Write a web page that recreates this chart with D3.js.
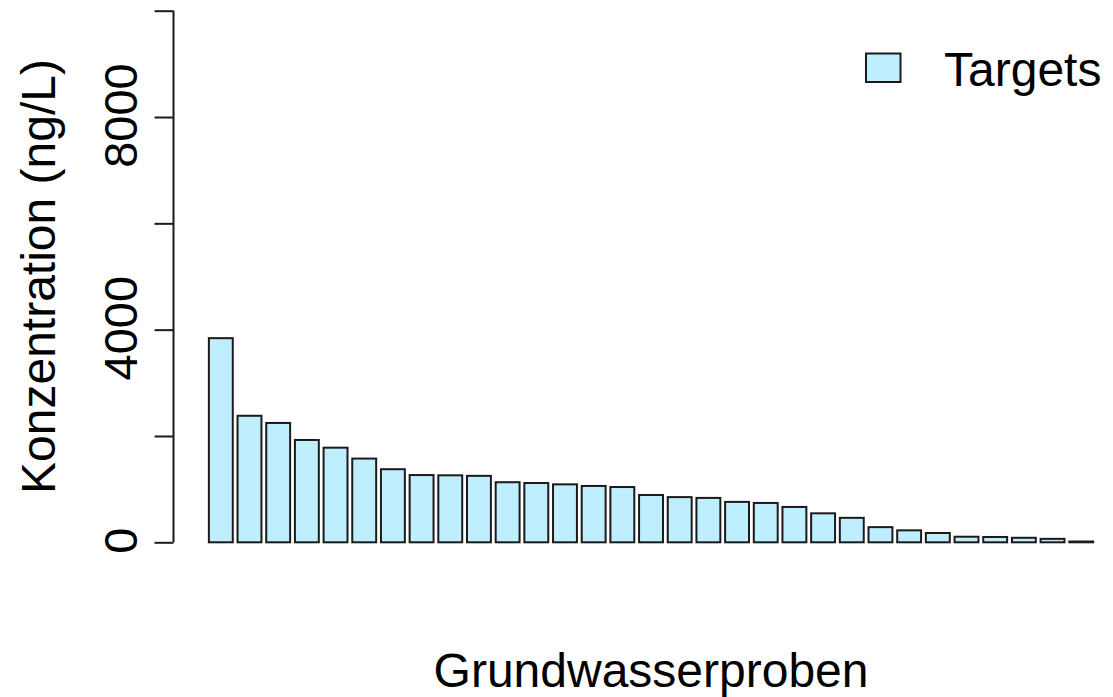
<!DOCTYPE html>
<html>
<head>
<meta charset="utf-8">
<script src="https://cdn.jsdelivr.net/npm/d3@7"></script>
<style>
  html, body { margin: 0; padding: 0; background: #fff; }
  svg { display: block; }
  text { font-family: "Liberation Sans", Arial, Helvetica, sans-serif; fill: #000; }
</style>
</head>
<body>
<svg id="chart" width="1113" height="697"></svg>
<script>
// ---- data ----
const samples = d3.range(1, 32).map(i => "P" + i);
const targets = [3840, 2380, 2245, 1925, 1780, 1575, 1375, 1265, 1260, 1250,
                 1130, 1115, 1090, 1060, 1040, 890, 850, 835, 760, 740,
                 665, 545, 460, 285, 225, 175, 105, 100, 85, 65, 15];
const yTicks = [0, 2000, 4000, 6000, 8000, 10000];
const yTickLabels = ["0", "", "4000", "", "8000", ""];
const seriesName = "Targets";
const xTitle = "Grundwasserproben";
const yTitle = "Konzentration (ng/L)";

// ---- layout (R barplot style: width 1, space 0.2, 4% axis extension) ----
const svg = d3.select("#chart");
const fontSize = 48;
const tickFont = 47;
const barFill = "#BFEFFF";

const n = targets.length;
const uMin = 0.2, uMax = 1.2 * n;           // bar extents in user units
const ext = 0.04 * (uMax - uMin);
const x = d3.scaleLinear()
  .domain([uMin - ext, uMax + ext])
  .range([173.5, 173.5 + (uMax - uMin + 2 * ext) * 23.9]);

const y = d3.scaleLinear().domain([0, 10000]).range([542.3, 10.7]);

// bars
svg.append("g").selectAll("rect")
  .data(targets)
  .join("rect")
  .attr("x", (d, i) => x(0.2 + 1.2 * i))
  .attr("width", x(1) - x(0))
  .attr("y", d => y(d))
  .attr("height", d => y(0) - y(d))
  .attr("fill", barFill)
  .attr("stroke", "#1a1a1a")
  .attr("stroke-width", 2);

// y axis
const yAxis = d3.axisLeft(y)
  .tickValues(yTicks)
  .tickSize(19)
  .tickFormat((d, i) => yTickLabels[i]);
const gy = svg.append("g")
  .attr("transform", `translate(${x.range()[0]},0)`)
  .call(yAxis);
gy.select(".domain").attr("d", `M0,${y(0)}V${y(10000)}`).attr("stroke", "#1a1a1a").attr("stroke-width", 2);
gy.selectAll(".tick line").attr("stroke", "#1a1a1a").attr("stroke-width", 2);
gy.selectAll(".tick text")
  .attr("font-size", tickFont)
  .attr("x", null).attr("dy", null)
  .attr("text-anchor", "middle")
  .attr("transform", "translate(-37,-2) rotate(-90)")
  .attr("y", 0);

// y title
svg.append("text")
  .attr("transform", `translate(55,${(y(0) + y(10000)) / 2}) rotate(-90)`)
  .attr("text-anchor", "middle")
  .attr("font-size", fontSize)
  .text(yTitle);

// x title
svg.append("text")
  .attr("x", (x.range()[0] + x.range()[1]) / 2)
  .attr("y", 687)
  .attr("text-anchor", "middle")
  .attr("font-size", fontSize)
  .text(xTitle);

// legend
const lg = svg.append("g");
lg.append("rect")
  .attr("x", 866).attr("y", 53.5)
  .attr("width", 34.5).attr("height", 28.5)
  .attr("fill", barFill)
  .attr("stroke", "#1a1a1a")
  .attr("stroke-width", 2);
lg.append("text")
  .attr("x", 944).attr("y", 86)
  .attr("font-size", fontSize)
  .text(seriesName);
</script>
</body>
</html>
